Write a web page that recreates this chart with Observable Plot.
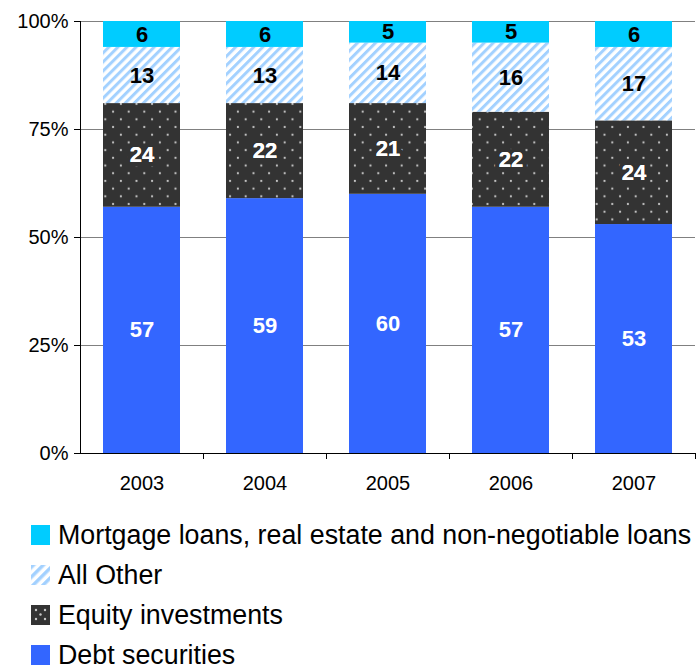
<!DOCTYPE html>
<html>
<head>
<meta charset="utf-8">
<script src="https://cdn.jsdelivr.net/npm/d3@7"></script>
<script src="https://cdn.jsdelivr.net/npm/@observablehq/plot@0.6"></script>
<style>
  body { margin: 0; background: #fff; font-family: "Liberation Sans", Arial, sans-serif; }
  #legend { padding: 15px 0 0 31px; }
  .item { display: flex; align-items: center; height: 40px; font-size: 26.8px; color: #000; white-space: nowrap; }
  .item svg { margin-right: 8px; flex: none; }
</style>
</head>
<body>
<div id="chart"></div>
<div id="legend"></div>
<script>
const years = ["2003", "2004", "2005", "2006", "2007"];
const series = ["Debt securities", "Equity investments", "All Other", "Mortgage loans, real estate and non-negotiable loans"];
const debt = [57, 59, 60, 57, 53];
const equity = [24, 22, 21, 22, 24];
const allOther = [13, 13, 14, 16, 17];
const mortgage = [6, 6, 5, 5, 6];
const yTicks = [0, 25, 50, 75, 100];
const fills = ["#3366ff", "url(#dots)", "url(#stripes)", "#00ccff"];
const labelColors = ["#fff", "#fff", "#000", "#000"];
const legendOrder = [3, 2, 1, 0];

const cols = [debt, equity, allOther, mortgage];
const data = [];
years.forEach((yr, i) => {
  series.forEach((s, j) => data.push({year: yr, series: s, value: cols[j][i], si: j}));
});

const plot = Plot.plot({
  width: 697,
  height: 500,
  marginLeft: 80,
  marginRight: 2,
  marginTop: 21,
  marginBottom: 47,
  style: {fontFamily: "Liberation Sans, Arial, sans-serif", fontSize: "20px", color: "#000", background: "#fff"},
  x: {domain: years, paddingInner: 0.375, paddingOuter: 0.1875, label: null},
  y: {domain: [0, 100], label: null},
  color: {type: "ordinal", domain: series, range: fills},
  marks: [
    Plot.ruleY(yTicks.filter(d => d > 0), {stroke: "#808080", strokeWidth: 1}),
    Plot.barY(data, Plot.stackY({x: "year", y: "value", z: "series", fill: "series", order: series})),
    Plot.text(data, Plot.stackY({x: "year", y: "value", z: "series", order: series,
      text: d => d.si === 1 ? String(d.value) : null,
      fill: "#fff", stroke: "#333", strokeWidth: 9, fontWeight: "bold", fontSize: 22})),
    Plot.text(data, Plot.stackY({x: "year", y: "value", z: "series", order: series, text: d => String(d.value),
      fill: d => labelColors[d.si], fontWeight: "bold", fontSize: 22})),
    Plot.ruleY([0], {stroke: "#000", strokeWidth: 1}),
    Plot.axisY({ticks: yTicks, tickFormat: d => d + "%", tickSize: 6, tickPadding: 6, fontSize: 20}),
    Plot.axisX({tickSize: 0, tickPadding: 22, fontSize: 20})
  ]
});

const svg = d3.select(plot);
const defs = svg.insert("defs", ":first-child");
const st = defs.append("pattern").attr("id", "stripes").attr("patternUnits", "userSpaceOnUse")
  .attr("width", 6.4).attr("height", 6.4).attr("patternTransform", "rotate(45)");
st.append("rect").attr("width", 6.4).attr("height", 6.4).attr("fill", "#fff");
st.append("rect").attr("width", 3).attr("height", 6.4).attr("fill", "#a3d1ff");
const dp = defs.append("pattern").attr("id", "dots").attr("patternUnits", "userSpaceOnUse")
  .attr("width", 15.6).attr("height", 15.4);
dp.append("rect").attr("width", 15.6).attr("height", 15.4).attr("fill", "#333333");
dp.append("circle").attr("cx", 3.9).attr("cy", 3.85).attr("r", 1.1).attr("fill", "#c8c8c8");
dp.append("circle").attr("cx", 11.7).attr("cy", 11.55).attr("r", 1.1).attr("fill", "#c8c8c8");

// axis lines derived from the scales
const xs = plot.scale("x"), ys = plot.scale("y");
const x0 = xs.range[0], x1 = xs.range[1];
const yTop = ys.range[1], yBot = ys.range[0];
const g = svg.append("g").attr("stroke", "#000").attr("stroke-width", 1);
g.append("line").attr("x1", x0 + 0.5).attr("x2", x0 + 0.5).attr("y1", yTop).attr("y2", yBot);
const step = (x1 - x0) / years.length;
for (let i = 1; i <= years.length; i++) {
  const bx = Math.round(x0 + step * i) + 0.5;
  g.append("line").attr("x1", bx).attr("x2", bx).attr("y1", yBot).attr("y2", yBot + 6);
}
document.getElementById("chart").appendChild(plot);

// legend
const legend = d3.select("#legend");
legendOrder.forEach(j => {
  const item = legend.append("div").attr("class", "item");
  const s = item.append("svg").attr("width", 19).attr("height", 20);
  const sd = s.append("defs");
  if (j === 2) {
    const p = sd.append("pattern").attr("id", "lstripes").attr("patternUnits", "userSpaceOnUse")
      .attr("width", 7).attr("height", 7).attr("patternTransform", "rotate(45)");
    p.append("rect").attr("width", 7).attr("height", 7).attr("fill", "#fff");
    p.append("rect").attr("width", 3.5).attr("height", 7).attr("fill", "#a3d1ff");
    s.append("rect").attr("width", 19).attr("height", 20).attr("fill", "url(#lstripes)");
  } else if (j === 1) {
    s.append("rect").attr("width", 19).attr("height", 20).attr("fill", "#333");
    [[5, 5], [14, 5], [5, 14], [14, 14], [9.5, 9.5]].forEach(([cx, cy]) =>
      s.append("circle").attr("cx", cx).attr("cy", cy).attr("r", 1.2).attr("fill", "#c8c8c8"));
  } else {
    s.append("rect").attr("width", 19).attr("height", 20).attr("fill", fills[j]);
  }
  item.append("span").text(series[j]);
});
</script>
</body>
</html>
